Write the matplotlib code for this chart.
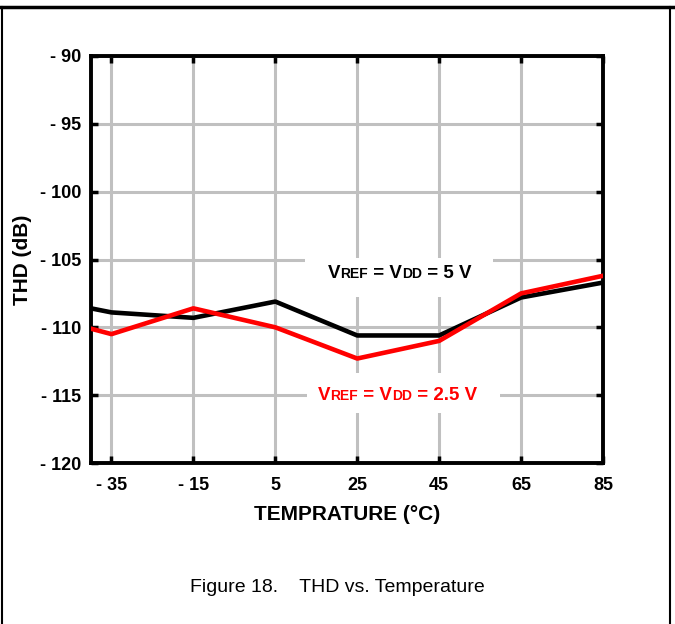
import numpy as np
import matplotlib.pyplot as plt
from matplotlib.offsetbox import TextArea, HPacker, AnnotationBbox
from matplotlib.lines import Line2D
from matplotlib.patches import Rectangle

# data
temp = [-40, -35, -15, 5, 25, 45, 65, 85]
thd_5v = [-108.6, -108.9, -109.3, -108.1, -110.6, -110.6, -107.8, -106.7]
thd_25v = [-110.1, -110.5, -108.6, -110.0, -112.3, -111.0, -107.5, -106.2]

xticks = [-35, -15, 5, 25, 45, 65, 85]
xlabels = ['- 35', '- 15', '5', '25', '45', '65', '85']
yticks = [-120, -115, -110, -105, -100, -95, -90]
ylabels = ['- 120', '- 115', '- 110', '- 105', '- 100', '- 95', '- 90']

fam = ['Liberation Sans', 'DejaVu Sans']
plt.rcParams['font.family'] = fam

fig = plt.figure(figsize=(6.75, 6.24), dpi=100)
ax = fig.add_axes([91/675, 1 - 463/624, (603 - 91)/675, (463 - 56)/624])

ax.plot(temp, thd_5v, color='black', lw=3.3, zorder=3)
ax.plot(temp, thd_25v, color='#ff0000', lw=3.3, zorder=4)

ax.set_xlim(-40, 85)
ax.set_ylim(-120, -90)
ax.set_xticks(xticks)
ax.set_xticklabels(xlabels, fontsize=13, fontweight='bold')
ax.set_yticks(yticks)
ax.set_yticklabels(ylabels, fontsize=13, fontweight='bold')
ax.tick_params(direction='in', length=5, width=2.5, top=True, right=True)
ax.tick_params(axis='x', pad=10)
ax.tick_params(axis='y', pad=7)
ax.grid(True, color='#c0c0c0', lw=2.2, zorder=0)
ax.set_axisbelow(True)
for s in ax.spines.values():
    s.set_linewidth(2.8)

ax.set_xlabel('TEMPRATURE (°C)', fontsize=15, fontweight='bold', labelpad=8)
ax.set_ylabel('THD (dB)', fontsize=15, fontweight='bold', labelpad=6)


def vlabel(box, center, tail, color):
    # white box that hides the grid behind the label
    ax.add_patch(Rectangle((box[0], box[1]), box[2] - box[0], box[3] - box[1],
                           transform=ax.transAxes, facecolor='white',
                           edgecolor='none', zorder=2))
    big = dict(fontsize=13.5, fontweight='bold', color=color, family=fam)
    small = dict(fontsize=10, fontweight='bold', color=color, family=fam)
    parts = [TextArea('V', textprops=big), TextArea('REF', textprops=small),
             TextArea(' = V', textprops=big), TextArea('DD', textprops=small),
             TextArea(tail, textprops=big)]
    pack = HPacker(children=parts, align='baseline', pad=0, sep=0)
    ab = AnnotationBbox(pack, center, xycoords='axes fraction', frameon=False,
                        zorder=5)
    ax.add_artist(ab)


vlabel((0.418, 0.408, 0.785, 0.504), (0.603, 0.465), ' = 5 V', 'black')
vlabel((0.422, 0.123, 0.799, 0.221), (0.599, 0.167), ' = 2.5 V', '#ff0000')

fig.text(337/675, 1 - 588/624, 'Figure 18.    THD vs. Temperature',
         ha='center', va='center', fontsize=14)

# page frame
fig.add_artist(Line2D([0, 1], [1 - 7/624, 1 - 7/624], color='black', lw=2.5,
                      transform=fig.transFigure))
fig.add_artist(Line2D([1.5/675, 1.5/675], [0, 1 - 7/624], color='black', lw=1.5,
                      transform=fig.transFigure))
fig.add_artist(Line2D([670/675, 670/675], [0, 1 - 7/624], color='black', lw=1.5,
                      transform=fig.transFigure))

fig.savefig('out.png', dpi=100)
